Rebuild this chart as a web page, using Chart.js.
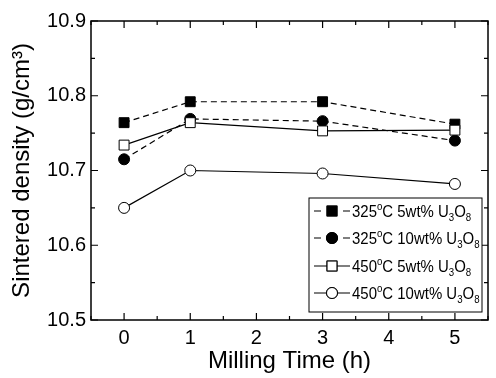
<!DOCTYPE html>
<html>
<head>
<meta charset="utf-8">
<script src="https://cdn.jsdelivr.net/npm/chart.js@4"></script>
<style>
  body { margin: 0; background: #fff; }
  canvas { display: block; }
</style>
</head>
<body>
<canvas id="density" width="496" height="378"></canvas>
<script>
// milling time (h) and sintered density (g/cm3)
const millingTime = [0, 1, 3, 5];
const dens325_5 = [10.764, 10.792, 10.792, 10.762];
const dens325_10 = [10.715, 10.769, 10.766, 10.740];
const dens450_5 = [10.734, 10.764, 10.753, 10.754];
const dens450_10 = [10.650, 10.700, 10.696, 10.682];

const xTicks = [0, 1, 2, 3, 4, 5];
const yTicks = [10.5, 10.6, 10.7, 10.8, 10.9];

const seriesTemp = ['325', '325', '450', '450'];
const seriesWt = ['5wt%', '10wt%', '5wt%', '10wt%'];

const FONT = '"Liberation Sans", Arial, sans-serif';

function pts(ys) {
  return millingTime.map((x, i) => ({ x: x, y: ys[i] }));
}

function series(ys, style, fill, dashed, order) {
  return {
    data: pts(ys),
    borderColor: '#000',
    borderWidth: 1.2,
    borderDash: dashed ? [6, 4] : [],
    pointStyle: style,
    pointRadius: style == 'rect' ? 7 : 5.5,
    pointBackgroundColor: fill,
    pointBorderColor: '#000',
    pointBorderWidth: 1,
    tension: 0,
    order: order
  };
}

// frame, inward ticks on all four sides, and the legend box
const framePlugin = {
  id: 'frame',
  afterDatasetsDraw(chart) {
    const ctx = chart.ctx;
    const a = chart.chartArea;
    const xs = chart.scales.x, ys = chart.scales.y;
    ctx.save();
    ctx.strokeStyle = '#000';
    ctx.setLineDash([]);

    ctx.lineWidth = 1.5;
    ctx.strokeRect(a.left, a.top, a.right - a.left, a.bottom - a.top);

    ctx.lineWidth = 1.2;
    ctx.beginPath();
    for (let v = -0.5; v <= 5.5; v += 0.5) {
      const px = xs.getPixelForValue(v);
      const len = Number.isInteger(v) ? 7 : 4;
      ctx.moveTo(px, a.bottom); ctx.lineTo(px, a.bottom - len);
      ctx.moveTo(px, a.top); ctx.lineTo(px, a.top + len);
    }
    for (let i = 0; i <= 8; i++) {
      const v = 10.5 + i * 0.05;
      const py = ys.getPixelForValue(v);
      const len = i % 2 == 0 ? 7 : 4;
      ctx.moveTo(a.left, py); ctx.lineTo(a.left + len, py);
      ctx.moveTo(a.right, py); ctx.lineTo(a.right - len, py);
    }
    ctx.stroke();

    // legend
    const bx = 309, by = 198, bw = 173, bh = 114;
    ctx.fillStyle = '#fff';
    ctx.fillRect(bx, by, bw, bh);
    ctx.lineWidth = 1;
    ctx.strokeRect(bx, by, bw, bh);

    const rowY = [211, 238, 266, 293];
    chart.data.datasets.forEach((ds, i) => {
      const y = rowY[i];
      ctx.lineWidth = 1.2;
      ctx.beginPath();
      if (ds.borderDash.length) {
        ctx.moveTo(314, y); ctx.lineTo(321, y);
        ctx.moveTo(343, y); ctx.lineTo(350, y);
      } else {
        ctx.moveTo(314, y); ctx.lineTo(350, y);
      }
      ctx.stroke();
      Chart.helpers.drawPoint(ctx, {
        pointStyle: ds.pointStyle,
        radius: ds.pointRadius,
        borderWidth: 1
      }, 332, y);
      ctx.fillStyle = ds.pointBackgroundColor;
      ctx.strokeStyle = '#000';
      ctx.lineWidth = 1;
      ctx.fill();
      ctx.stroke();

      // "325°C 5wt% U3O8" with super/subscripts, slightly condensed
      ctx.save();
      ctx.translate(352, y + 6);
      ctx.scale(0.88, 1);
      ctx.fillStyle = '#000';
      ctx.textBaseline = 'alphabetic';
      ctx.textAlign = 'left';
      let x = 0;
      const parts = [
        [seriesTemp[i], 17, 0],
        ['o', 11, -7],
        ['C ' + seriesWt[i] + ' U', 17, 0],
        ['3', 11, 4],
        ['O', 17, 0],
        ['8', 11, 4]
      ];
      parts.forEach(p => {
        ctx.font = p[1] + 'px ' + FONT;
        ctx.fillText(p[0], x, p[2]);
        x += ctx.measureText(p[0]).width;
      });
      ctx.restore();
    });
    ctx.restore();
  }
};

new Chart(document.getElementById('density'), {
  type: 'line',
  data: {
    datasets: [
      series(dens325_5, 'rect', '#000', true, 4),
      series(dens325_10, 'circle', '#000', true, 3),
      series(dens450_5, 'rect', '#fff', false, 2),
      series(dens450_10, 'circle', '#fff', false, 1)
    ]
  },
  options: {
    responsive: false,
    animation: false,
    layout: { padding: { top: 21, right: 1, left: 0, bottom: 0 } },
    plugins: { legend: { display: false }, tooltip: { enabled: false } },
    scales: {
      x: {
        type: 'linear',
        min: -0.5,
        max: 5.5,
        afterBuildTicks: s => { s.ticks = xTicks.map(v => ({ value: v })); },
        afterFit: s => { s.height = 58; },
        grid: { display: false, drawTicks: false },
        border: { display: false },
        ticks: { color: '#000', padding: 6, font: { family: FONT, size: 20 } },
        title: {
          display: true,
          text: 'Milling Time (h)',
          color: '#000',
          padding: { top: 0, bottom: 2 },
          font: { family: FONT, size: 24 }
        }
      },
      y: {
        min: 10.5,
        max: 10.9,
        afterBuildTicks: s => { s.ticks = yTicks.map(v => ({ value: v })); },
        afterFit: s => { s.width = 91; },
        grid: { display: false, drawTicks: false },
        border: { display: false },
        ticks: {
          color: '#000',
          padding: 5,
          font: { family: FONT, size: 20 },
          callback: v => v.toFixed(1)
        },
        title: {
          display: true,
          text: 'Sintered density (g/cm³)',
          color: '#000',
          padding: { top: 8, bottom: 0 },
          font: { family: FONT, size: 24 }
        }
      }
    }
  },
  plugins: [framePlugin]
});
</script>
</body>
</html>
